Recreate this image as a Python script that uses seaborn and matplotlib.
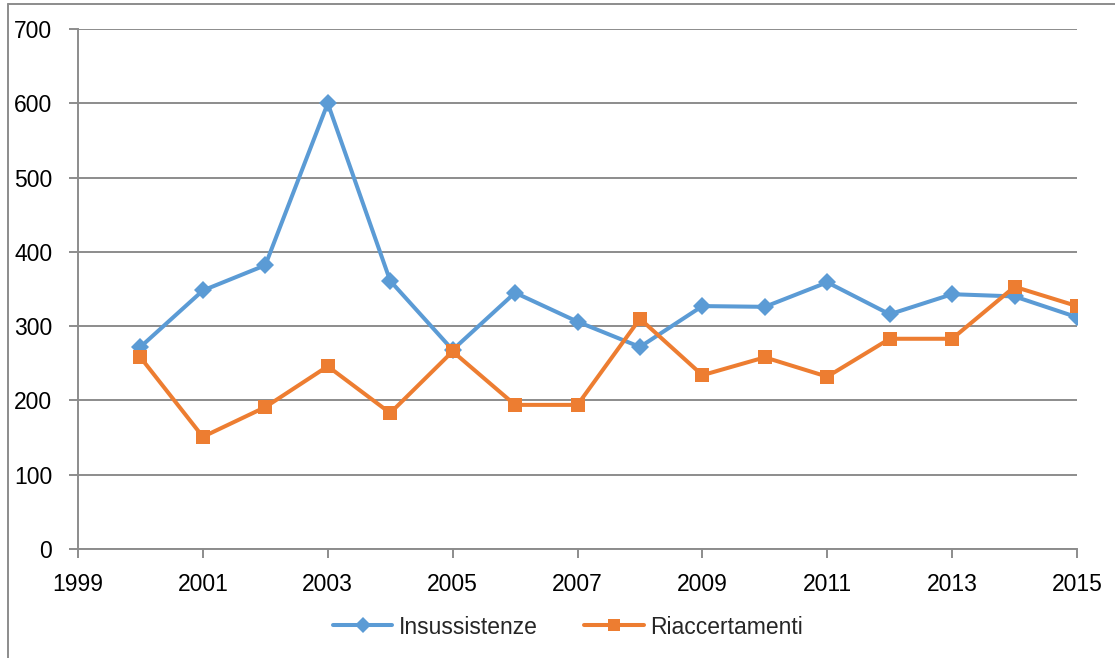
import matplotlib
matplotlib.use("Agg")
import matplotlib.pyplot as plt
import matplotlib.lines as mlines
import seaborn as sns
import pandas as pd

years = list(range(2000, 2016))
insussistenze = [272, 348, 382, 600, 361, 268, 345, 306, 272, 327, 326, 359, 316, 343, 340, 312]
riaccertamenti = [258, 151, 191, 246, 183, 266, 194, 194, 310, 234, 258, 232, 283, 283, 353, 327]
series_names = ["Insussistenze", "Riaccertamenti"]
colors = ["#5B9BD5", "#ED7D31"]
x_ticks = list(range(1999, 2016, 2))
y_ticks = list(range(0, 701, 100))

df = pd.DataFrame({
    "anno": years * 2,
    "valore": insussistenze + riaccertamenti,
    "serie": [series_names[0]] * len(years) + [series_names[1]] * len(years),
})

sns.set_theme(style="white")
plt.rcParams['font.family'] = ['Liberation Sans', 'DejaVu Sans']

fig = plt.figure(figsize=(11.15, 6.58), dpi=100)
ax = fig.add_axes([78 / 1115, 1 - 549 / 658, (1077 - 78) / 1115, (549 - 29) / 658])

sns.lineplot(data=df, x="anno", y="valore", hue="serie", style="serie",
             markers={"Insussistenze": "D", "Riaccertamenti": "s"}, dashes=False,
             palette=dict(zip(series_names, colors)), linewidth=2.9,
             markersize=9.5, markeredgewidth=0, ax=ax)

ax.set_xlim(1999, 2015)
ax.set_ylim(0, 700)
ax.set_xticks(x_ticks)
ax.set_yticks(y_ticks)
ax.set_xlabel("")
ax.set_ylabel("")
ax.grid(axis="y", color="#8c8c8c", linewidth=1.4)
ax.grid(axis="x", visible=False)
ax.set_axisbelow(True)
for s in ["top", "right"]:
    ax.spines[s].set_visible(False)
for s in ["left", "bottom"]:
    ax.spines[s].set_color("#8c8c8c")
    ax.spines[s].set_linewidth(1.4)
ax.tick_params(axis="both", which="major", direction="out", length=6.5, width=1.4,
               color="#8c8c8c", labelsize=16.5, labelcolor="black")
ax.tick_params(axis="y", pad=12)
ax.tick_params(axis="x", pad=11)
ax.tick_params(left=True, bottom=True)

ax.legend_.remove()
handles = [mlines.Line2D([], [], color=colors[0], marker="D", markersize=8, linewidth=2.9, markeredgewidth=0),
           mlines.Line2D([], [], color=colors[1], marker="s", markersize=9, linewidth=2.9, markeredgewidth=0)]
fig.legend(handles, series_names, loc="center", bbox_to_anchor=(568 / 1115, 1 - 627 / 658),
           ncol=2, frameon=False, fontsize=16.5, handlelength=2.6, columnspacing=2.0,
           handletextpad=0.3)

# outer chart border (partially cropped)
fig.add_artist(mlines.Line2D([8 / 1115, 1.0], [1 - 4 / 658, 1 - 4 / 658], color="#8c8c8c", linewidth=1.4,
                             transform=fig.transFigure))
fig.add_artist(mlines.Line2D([8 / 1115, 8 / 1115], [0.0, 1 - 4 / 658], color="#8c8c8c", linewidth=1.4,
                             transform=fig.transFigure))

fig.savefig("out.png", dpi=100, facecolor="white")
